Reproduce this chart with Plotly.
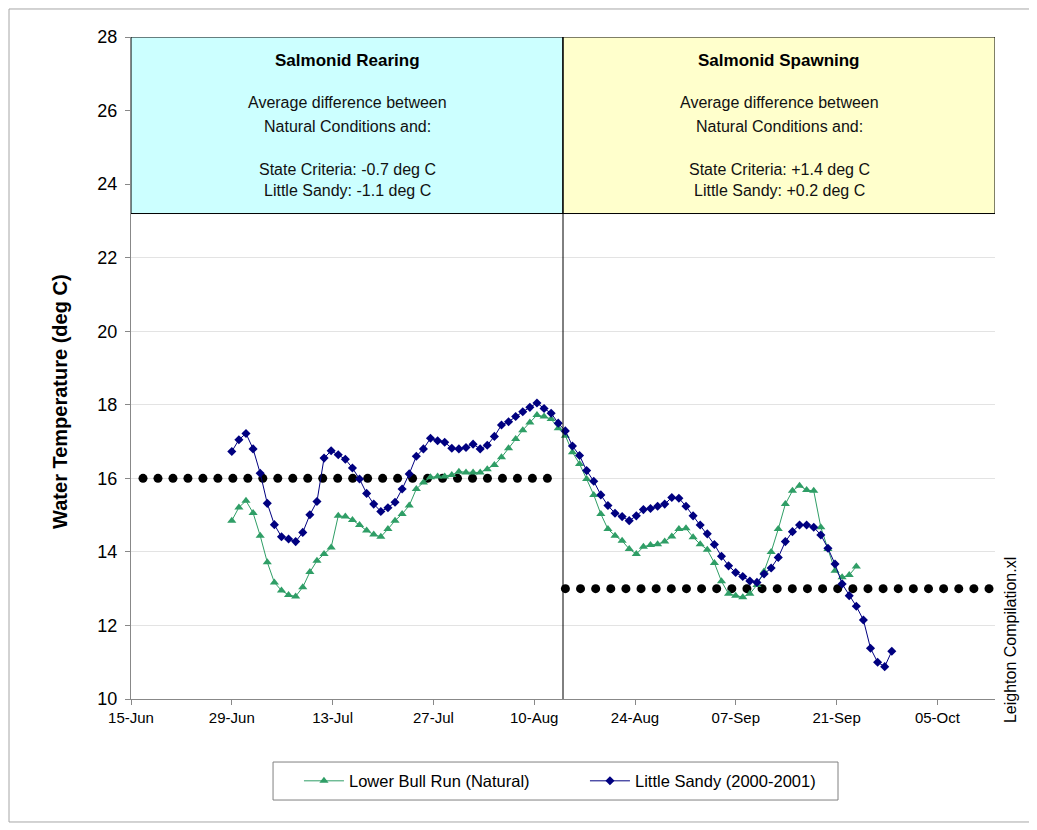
import pandas as pd
import plotly.graph_objects as go

# ---------------- data ----------------
series_start = "2001-06-29"
series_end = "2001-09-28 16:00"

lower_bull_run = [
    14.85, 15.21, 15.39, 15.06, 14.44, 13.72, 13.17, 12.95, 12.83, 12.79,
    13.04, 13.45, 13.76, 13.94, 14.12, 14.98, 14.96, 14.87, 14.73, 14.58,
    14.47, 14.41, 14.62, 14.85, 15.03, 15.26, 15.71, 15.89, 16.03, 16.05,
    16.05, 16.09, 16.18, 16.16, 16.16, 16.16, 16.25, 16.36, 16.57, 16.82,
    17.07, 17.31, 17.52, 17.72, 17.68, 17.61, 17.36, 17.16, 16.71, 16.39,
    15.98, 15.55, 15.03, 14.62, 14.44, 14.30, 14.08, 13.94, 14.14, 14.19,
    14.21, 14.28, 14.42, 14.62, 14.64, 14.40, 14.21, 14.06, 13.70, 13.20,
    12.86, 12.81, 12.77, 12.86, 13.10, 13.47, 14.00, 14.62, 15.30, 15.66,
    15.80, 15.68, 15.66, 14.67, 14.08, 13.49, 13.31, 13.37, 13.60,
]

little_sandy = [
    16.73, 17.05, 17.22, 16.80, 16.14, 15.32, 14.74, 14.41, 14.35, 14.28,
    14.53, 15.01, 15.37, 16.55, 16.75, 16.64, 16.52, 16.28, 15.98, 15.59,
    15.30, 15.10, 15.20, 15.35, 15.71, 16.12, 16.60, 16.80, 17.09, 17.02,
    16.98, 16.82, 16.80, 16.84, 16.93, 16.80, 16.90, 17.14, 17.45, 17.54,
    17.68, 17.81, 17.93, 18.05, 17.90, 17.77, 17.50, 17.29, 16.88, 16.62,
    16.21, 15.92, 15.55, 15.26, 15.05, 14.96, 14.85, 14.98, 15.15, 15.18,
    15.24, 15.30, 15.48, 15.46, 15.24, 14.98, 14.73, 14.49, 14.20, 13.88,
    13.62, 13.44, 13.33, 13.21, 13.17, 13.40, 13.56, 13.85, 14.28, 14.55,
    14.73, 14.73, 14.67, 14.46, 14.10, 13.67, 13.13, 12.81, 12.52, 12.15,
    11.38, 11.00, 10.88, 11.30,
]

rearing_criterion = 16.0
spawning_criterion = 13.0
rearing_dots = ("2001-06-16 16:00", "2001-08-11 20:00")
spawning_dots = ("2001-08-14 08:00", "2001-10-12 04:00")

season_split = "2001-08-14"
axis_start = "2001-06-15"
axis_end = "2001-10-13"
y_min, y_max = 10, 28
box_bottom = 23.2

rearing_lines = ["Average difference between", "Natural Conditions and:",
                 "State Criteria: -0.7 deg C", "Little Sandy: -1.1 deg C"]
spawning_lines = ["Average difference between", "Natural Conditions and:",
                  "State Criteria: +1.4 deg C", "Little Sandy: +0.2 deg C"]
text_levels = [26.21, 25.58, 24.41, 23.84]
title_level = 27.37
rearing_center = "2001-07-15"
spawning_center = "2001-09-13"

# ---------------- figure ----------------
FONT = "Arial, Liberation Sans, sans-serif"
GREEN = "#2F9E66"
NAVY = "#000080"

dates = pd.date_range(series_start, series_end, periods=len(little_sandy))

fig = go.Figure()

# criteria dotted lines
r_x = pd.date_range(*rearing_dots, periods=28)
s_x = pd.date_range(*spawning_dots, periods=29)
fig.add_trace(go.Scatter(x=r_x, y=[rearing_criterion] * len(r_x), mode="markers",
                         marker=dict(color="black", size=9, symbol="circle"),
                         showlegend=False, hoverinfo="skip"))
fig.add_trace(go.Scatter(x=s_x, y=[spawning_criterion] * len(s_x), mode="markers",
                         marker=dict(color="black", size=9, symbol="circle"),
                         showlegend=False, hoverinfo="skip"))

fig.add_trace(go.Scatter(
    x=dates[:len(lower_bull_run)], y=lower_bull_run, mode="lines+markers",
    name="Lower Bull Run (Natural)",
    line=dict(color=GREEN, width=1),
    marker=dict(symbol="triangle-up", size=8, color=GREEN)))
fig.add_trace(go.Scatter(
    x=dates, y=little_sandy, mode="lines+markers",
    name="Little Sandy (2000-2001)",
    line=dict(color=NAVY, width=1),
    marker=dict(symbol="diamond", size=7, color=NAVY)))

shapes = [
    dict(type="rect", xref="x", yref="y", x0=axis_start, x1=season_split,
         y0=box_bottom, y1=y_max, fillcolor="#CCFFFF",
         line=dict(color="black", width=1), layer="above"),
    dict(type="rect", xref="x", yref="y", x0=season_split, x1=axis_end,
         y0=box_bottom, y1=y_max, fillcolor="#FFFFCC",
         line=dict(color="black", width=1), layer="above"),
    dict(type="line", xref="x", yref="y", x0=season_split, x1=season_split,
         y0=y_min, y1=y_max, line=dict(color="black", width=1), layer="above"),
    # outer chart frame
    dict(type="rect", xref="paper", yref="paper", x0=-0.1412, x1=1.0405,
         y0=-0.1858, y1=1.0423, line=dict(color="#A6A6A6", width=1),
         fillcolor="rgba(0,0,0,0)", layer="below"),
    # legend frame
    dict(type="rect", xref="paper", yref="paper", x0=0.1644, x1=0.8183,
         y0=-0.1526, y1=-0.0952, line=dict(color="#808080", width=1),
         fillcolor="white", layer="below"),
]

annotations = []
for center, title, lines in [(rearing_center, "Salmonid Rearing", rearing_lines),
                             (spawning_center, "Salmonid Spawning", spawning_lines)]:
    annotations.append(dict(x=center, y=title_level, xref="x", yref="y",
                            text="<b>%s</b>" % title, showarrow=False,
                            xanchor="center", yanchor="middle",
                            font=dict(family=FONT, size=17, color="black")))
    for lvl, txt in zip(text_levels, lines):
        annotations.append(dict(x=center, y=lvl, xref="x", yref="y", text=txt,
                                showarrow=False, xanchor="center", yanchor="middle",
                                font=dict(family=FONT, size=16, color="#111111")))

annotations.append(dict(x=-0.082, y=0.449, xref="paper", yref="paper",
                        text="<b>Water Temperature (deg C)</b>", textangle=-90,
                        xanchor="center", yanchor="middle",
                        showarrow=False, font=dict(family=FONT, size=20, color="black")))
annotations.append(dict(x=1.0174, y=0.089, xref="paper", yref="paper",
                        text="Leighton Compilation.xl", textangle=-90,
                        xanchor="center", yanchor="middle",
                        showarrow=False, font=dict(family=FONT, size=16, color="black")))

fig.update_layout(
    width=1029, height=822,
    margin=dict(l=123, r=42, t=29, b=131),
    paper_bgcolor="white", plot_bgcolor="white",
    font=dict(family=FONT, color="black"),
    shapes=shapes, annotations=annotations,
    legend=dict(orientation="h", x=0.1944, xanchor="left", y=-0.124, yanchor="middle",
                borderwidth=0, bgcolor="rgba(0,0,0,0)",
                font=dict(family=FONT, size=16.5, color="black"),
                itemwidth=40, entrywidth=231),
    xaxis=dict(type="date", range=[axis_start, axis_end], tick0=axis_start,
               dtick=14 * 86400000, tickformat="%d-%b",
               showgrid=False, showline=True, linecolor="#888888", linewidth=1,
               ticks="outside", ticklen=5, tickcolor="#888888",
               tickfont=dict(family=FONT, size=15, color="black"), zeroline=False),
    yaxis=dict(range=[y_min, y_max], dtick=2, showgrid=True, gridcolor="#E3E3E3",
               showline=True, linecolor="#888888", linewidth=1,
               ticks="outside", ticklen=5, tickcolor="#888888", ticklabelstandoff=4,
               tickfont=dict(family=FONT, size=18, color="black"), zeroline=False),
)

fig.write_html("out.html")
